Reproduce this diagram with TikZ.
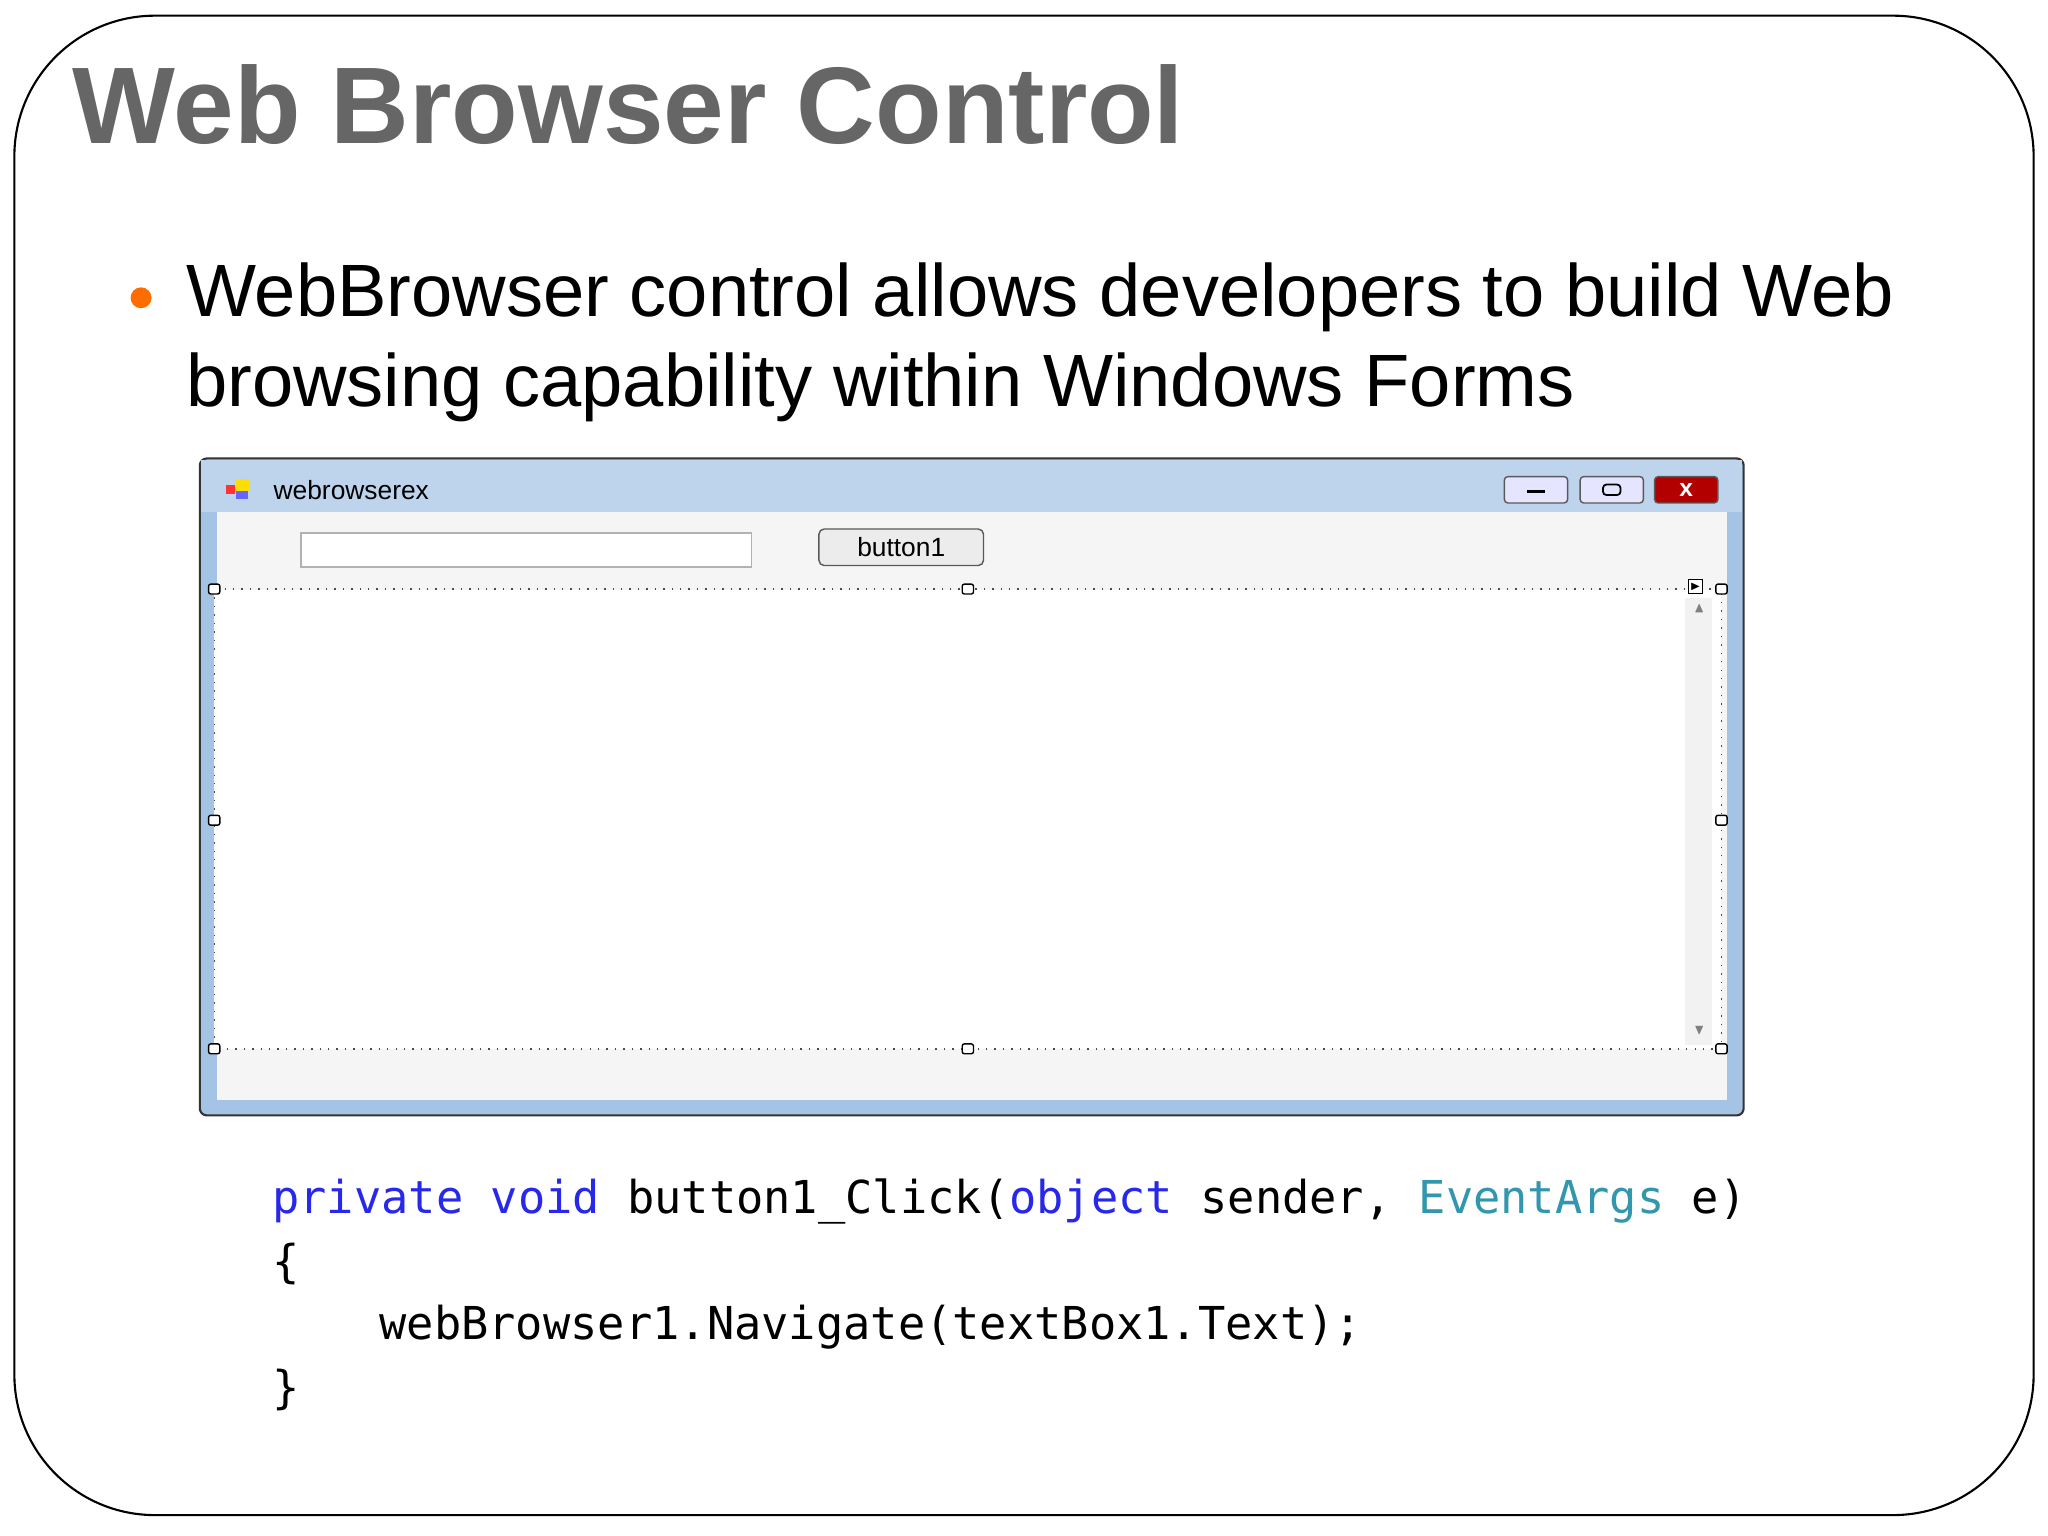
\documentclass[tikz,border=0pt]{standalone}
\usepackage{amssymb}
\usepackage{fontspec}
\setmainfont{Liberation Sans}
\newfontfamily\codefont{DejaVu Sans Mono}
\definecolor{frame}{RGB}{165,195,228}
\definecolor{tbar}{RGB}{190,212,236}
\definecolor{kw}{RGB}{40,40,235}
\definecolor{ty}{RGB}{50,150,175}
\begin{document}
\begin{tikzpicture}[x=0.013061cm,y=-0.013061cm,
  handle/.style={draw=black,fill=white,line width=0.4pt,minimum width=3.2pt,minimum height=2.8pt,inner sep=0pt,rounded corners=0.6pt},
  winbtn/.style={draw=gray!70!black,rounded corners=1pt,minimum width=18pt,minimum height=7.5pt,inner sep=0pt}]
\useasboundingbox (0,0) rectangle (1568,1176);
\fill[white] (0,0) rectangle (1568,1176);
\draw[line width=0.6pt,rounded corners=40] (11,12) rectangle (1557,1160);
\node[anchor=west,font=\bfseries\fontsize{31}{36}\selectfont,text=black!60,inner sep=0pt] (title) at (55,80) {Web Browser Control};
\fill[orange!85!red] (108,228) circle (8);
\node[anchor=north west,align=left,font=\fontsize{21.1}{25.5}\selectfont,inner sep=0pt] (bullet) at (142,201) {WebBrowser control allows developers to build Web\\browsing capability within Windows Forms};
% window
\draw[fill=frame,draw=black!80,line width=0.6pt,rounded corners=2pt] (153,351) rectangle (1335,854);
\fill[tbar] (154,352) rectangle (1334,392);
\fill[gray!8] (166,392) rectangle (1322,842);
\fill[white] (164,452) rectangle (1318,803);
\fill[gray!10] (1290,458) rectangle (1311,800);
\node[anchor=west,font=\fontsize{7.5}{9}\selectfont] (wt) at (200,375) {webrowserex};
\fill[red!80] (173,371) rectangle (180,378); \fill[yellow!80!orange] (181,367) rectangle (191,376); \fill[blue!60] (181,376) rectangle (190,382);
\node[winbtn,fill=blue!10] (mn) at (1176,375) {\rule[-2pt]{5pt}{0.8pt}};
\node[winbtn,fill=blue!10] (mx) at (1234,375) {\tikz\draw[line width=0.5pt](0,0) rectangle (5pt,3pt);};
\node[winbtn,fill=red!70!black,text=white,font=\fontsize{7}{8}\selectfont\bfseries] (cl) at (1291,375) {x};
\node[draw=gray!60,fill=white,minimum width=345*0.013061cm,minimum height=26*0.013061cm,inner sep=0pt] (tb) at (403,421) {};
\node[draw=gray!70!black,fill=gray!15,rounded corners=1.5pt,minimum width=126*0.013061cm,minimum height=28*0.013061cm,inner sep=0pt,font=\fontsize{7.5}{9}\selectfont] (b1) at (690,419) {button1};
\draw[dotted,black!70,line width=0.4pt] (164,451) rectangle (1318,803);
\foreach \x/\y [count=\i] in {164/451,741/451,1318/451,164/628,1318/628,164/803,741/803,1318/803}
  \node[handle] (h\i) at (\x,\y) {};
\node[draw,fill=white,minimum size=4pt,inner sep=0pt,font=\fontsize{3}{3}\selectfont] (arr) at (1298,449) {$\blacktriangleright$};
\node[font=\fontsize{4}{4}\selectfont,text=gray] (up) at (1301,466) {$\blacktriangle$};
\node[font=\fontsize{4}{4}\selectfont,text=gray] (dn) at (1301,789) {$\blacktriangledown$};
% code
\begin{scope}[font=\codefont\fontsize{12.9}{16}\selectfont]
\node[anchor=west,inner sep=0pt] (c1) at (208,920) {\textcolor{kw}{private void} button1\_Click(\textcolor{kw}{object} sender, \textcolor{ty}{EventArgs} e)};
\node[anchor=west,inner sep=0pt] (c2) at (208,968) {\{};
\node[anchor=west,inner sep=0pt] (c3) at (290,1016) {webBrowser1.Navigate(textBox1.Text);};
\node[anchor=west,inner sep=0pt] (c4) at (208,1064) {\}};
\end{scope}
\end{tikzpicture}
\end{document}
